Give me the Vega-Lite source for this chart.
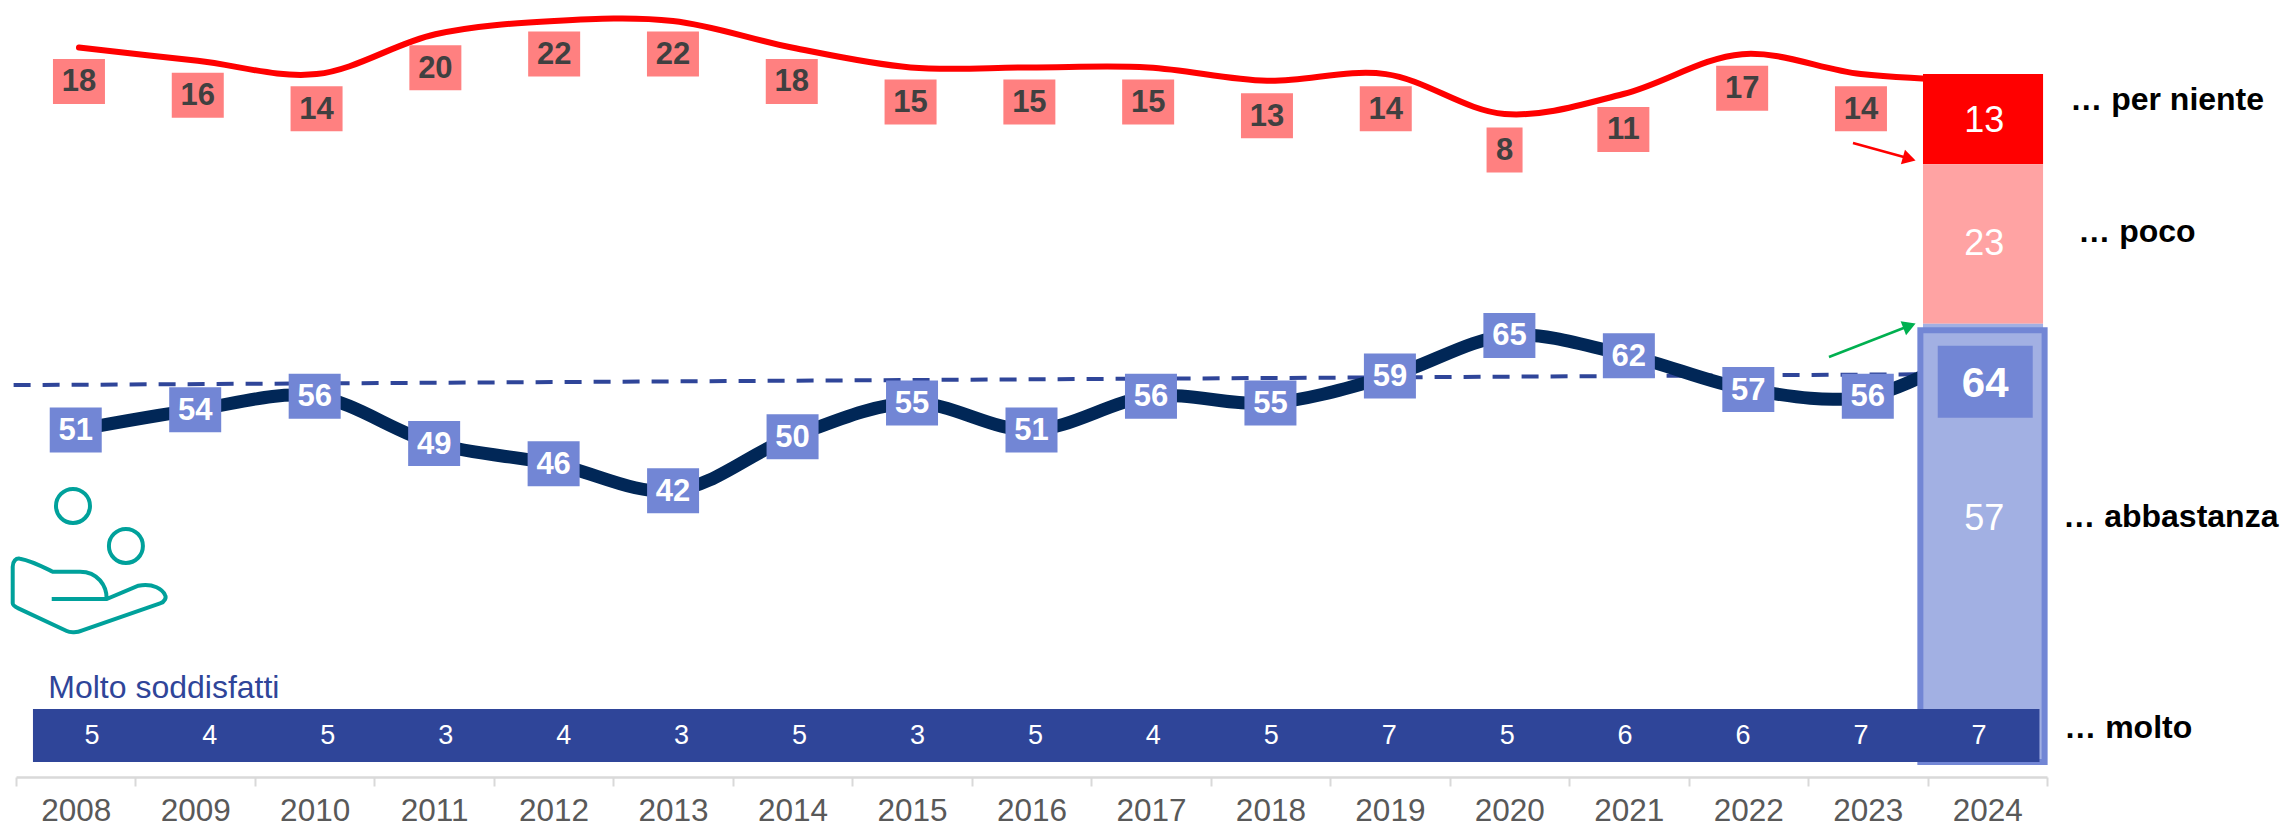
{
"$schema":"https://vega.github.io/schema/vega-lite/v6.json",
"width":2031,"height":777,
"autosize":{"type":"none"},
"padding":{"left":16,"top":0,"right":235,"bottom":54},
"background":"white",
"config":{"view":{"stroke":null},"font":"Liberation Sans","text":{"font":"Liberation Sans"}},
"datasets":{
"serie":[
{"anno":2008,"soddisfatti":51,"perNiente":18,"molto":5},
{"anno":2009,"soddisfatti":54,"perNiente":16,"molto":4},
{"anno":2010,"soddisfatti":56,"perNiente":14,"molto":5},
{"anno":2011,"soddisfatti":49,"perNiente":20,"molto":3},
{"anno":2012,"soddisfatti":46,"perNiente":22,"molto":4},
{"anno":2013,"soddisfatti":42,"perNiente":22,"molto":3},
{"anno":2014,"soddisfatti":50,"perNiente":18,"molto":5},
{"anno":2015,"soddisfatti":55,"perNiente":15,"molto":3},
{"anno":2016,"soddisfatti":51,"perNiente":15,"molto":5},
{"anno":2017,"soddisfatti":56,"perNiente":15,"molto":4},
{"anno":2018,"soddisfatti":55,"perNiente":13,"molto":5},
{"anno":2019,"soddisfatti":59,"perNiente":14,"molto":7},
{"anno":2020,"soddisfatti":65,"perNiente":8,"molto":5},
{"anno":2021,"soddisfatti":62,"perNiente":11,"molto":6},
{"anno":2022,"soddisfatti":57,"perNiente":17,"molto":6},
{"anno":2023,"soddisfatti":56,"perNiente":14,"molto":7},
{"anno":2024,"soddisfatti":64,"perNiente":13,"molto":7}
],
"tendenza":[{"anno":2007.48,"valore":58.0},{"anno":2023.44,"valore":59.6}],
"quota2024":[
{"anno":2024,"risposta":"per niente","pct":13,"da":87,"a":100,"centro":93.5,"etichetta":"… per niente"},
{"anno":2024,"risposta":"poco","pct":23,"da":64,"a":87,"centro":75.5,"etichetta":"… poco"},
{"anno":2024,"risposta":"abbastanza","pct":57,"da":7,"a":64,"centro":35.5,"etichetta":"… abbastanza"},
{"anno":2024,"risposta":"molto","pct":7,"da":0,"a":7,"centro":3.5,"etichetta":"… molto"}
],
"totale2024":[{"anno":2024,"valore":64}],
"titolo":[{"testo":"Molto soddisfatti"}]
},
"resolve":{"scale":{"x":"independent","y":"independent"}},
"layer":[
{"data":{"name":"serie"},
 "mark":{"type":"line","color":"#FF0000","strokeWidth":6,"interpolate":"catmull-rom","strokeCap":"round"},
 "encoding":{
  "x":{"field":"anno","type":"quantitative","scale":{"domain":[2007.47,2024.566]},"axis":null},
  "y":{"field":"perNiente","type":"quantitative","scale":{"domain":[-91.86,25.16]},"axis":null}}},
{"data":{"name":"tendenza"},
 "mark":{"type":"line","color":"#2F4599","strokeWidth":4,"strokeDash":[17,12]},
 "encoding":{
  "x":{"field":"anno","type":"quantitative","scale":{"domain":[2007.5,2024.5]},"axis":null},
  "y":{"field":"valore","type":"quantitative","scale":{"domain":[0,115]},"axis":null}}},
{"data":{"name":"serie"},
 "mark":{"type":"line","color":"#012757","strokeWidth":13,"interpolate":"catmull-rom"},
 "encoding":{
  "x":{"field":"anno","type":"quantitative","scale":{"domain":[2007.5,2024.5]},
   "axis":{"values":[2007.5,2008.5,2009.5,2010.5,2011.5,2012.5,2013.5,2014.5,2015.5,2016.5,2017.5,2018.5,2019.5,2020.5,2021.5,2022.5,2023.5,2024.5],
    "labelExpr":"datum.value<2024 ? format(datum.value+0.5,'d') : ''","labelOffset":59.7,"labelOverlap":false,"labelFlush":false,"labelBound":false,
    "title":null,"grid":false,"domainColor":"#D9D9D9","domainWidth":2.5,"tickColor":"#D9D9D9","tickWidth":2,"tickSize":9,
    "labelFont":"Liberation Sans","labelFontSize":31.5,"labelColor":"#595959","labelPadding":9,"labelAngle":0}},
  "y":{"field":"soddisfatti","type":"quantitative","scale":{"domain":[-0.35,114.65]},"axis":null}}},
{"data":{"name":"quota2024"},
 "transform":[{"filter":"datum.risposta!='molto'"}],
 "mark":{"type":"rect"},
 "encoding":{
  "x":{"datum":2023.462,"type":"quantitative","scale":{"domain":[2007.5,2024.5]},"axis":null},
  "x2":{"datum":2024.467},
  "y":{"field":"da","type":"quantitative","scale":{"domain":[-1.3,110.66]},"axis":null},
  "y2":{"field":"a"},
  "color":{"field":"risposta","type":"nominal","legend":null,"scale":{"domain":["per niente","poco","abbastanza","molto"],"range":["#FF0000","#FFA3A3","#A2B0E3","#2F4599"]}}}},
{"data":{"name":"totale2024"},
 "mark":{"type":"rect","fill":"#A2B0E3","stroke":"#7286D5","strokeWidth":6},
 "encoding":{
  "x":{"datum":2023.44,"type":"quantitative","scale":{"domain":[2007.5,2024.5]},"axis":null},
  "x2":{"datum":2024.48},
  "y":{"datum":-0.15,"type":"quantitative","scale":{"domain":[-2.33,110.77]},"axis":null},
  "y2":{"datum":62.7}}},
{"data":{"name":"totale2024"},
 "mark":{"type":"rect","color":"#2F4599"},
 "encoding":{
  "x":{"datum":2007.642,"type":"quantitative","scale":{"domain":[2007.5,2024.5]},"axis":null},
  "x2":{"datum":2024.437},
  "y":{"datum":-0.15,"type":"quantitative","scale":{"domain":[-2.33,110.77]},"axis":null},
  "y2":{"datum":7.57}}},
{"data":{"name":"serie"},
 "mark":{"type":"text","color":"white","fontSize":27,"baseline":"middle","align":"center","dy":1},
 "encoding":{
  "x":{"field":"anno","type":"quantitative","scale":{"domain":[2007.356,2024.577]},"axis":null},
  "y":{"datum":3.78,"type":"quantitative","scale":{"domain":[-2.33,110.77]},"axis":null},
  "text":{"field":"molto"}}},
{"data":{"name":"titolo"},
 "mark":{"type":"text","color":"#2F4599","fontSize":32,"baseline":"alphabetic","align":"left"},
 "encoding":{
  "x":{"datum":2007.77,"type":"quantitative","scale":{"domain":[2007.5,2024.5]},"axis":null},
  "y":{"datum":9.12,"type":"quantitative","scale":{"domain":[-2.33,110.77]},"axis":null},
  "text":{"field":"testo"}}},
{"data":{"name":"quota2024"},
 "transform":[{"filter":"datum.risposta!='molto'"}],
 "mark":{"type":"text","color":"white","fontSize":36,"baseline":"middle","align":"center","dx":-3,"dy":2},
 "encoding":{
  "x":{"field":"anno","type":"quantitative","scale":{"domain":[2007.5,2024.5]},"axis":null},
  "y":{"field":"centro","type":"quantitative","scale":{"domain":[-2.33,110.77]},"axis":null},
  "text":{"field":"pct"}}},
{"data":{"name":"totale2024"},
 "mark":{"type":"rect","color":"#7286D5","width":95,"height":72},
 "encoding":{
  "x":{"datum":2023.983,"type":"quantitative","scale":{"domain":[2007.5,2024.5]},"axis":null},
  "y":{"datum":55.2,"type":"quantitative","scale":{"domain":[-2.33,110.77]},"axis":null}}},
{"data":{"name":"totale2024"},
 "mark":{"type":"text","color":"white","fontSize":42,"fontWeight":"bold","baseline":"middle","align":"center","dy":2},
 "encoding":{
  "x":{"datum":2023.983,"type":"quantitative","scale":{"domain":[2007.5,2024.5]},"axis":null},
  "y":{"datum":55.2,"type":"quantitative","scale":{"domain":[-2.33,110.77]},"axis":null},
  "text":{"field":"valore"}}},
{"data":{"name":"serie"},
 "transform":[{"filter":"datum.anno<2024"}],
 "mark":{"type":"rect","color":"#7286D5","width":52,"height":45},
 "encoding":{
  "x":{"field":"anno","type":"quantitative","scale":{"domain":[2007.5,2024.5]},"axis":null},
  "y":{"field":"soddisfatti","type":"quantitative","scale":{"domain":[-0.35,114.65]},"axis":null}}},
{"data":{"name":"serie"},
 "transform":[{"filter":"datum.anno<2024"}],
 "mark":{"type":"text","color":"white","fontSize":31,"fontWeight":"bold","baseline":"middle","align":"center","dy":1},
 "encoding":{
  "x":{"field":"anno","type":"quantitative","scale":{"domain":[2007.5,2024.5]},"axis":null},
  "y":{"field":"soddisfatti","type":"quantitative","scale":{"domain":[-0.35,114.65]},"axis":null},
  "text":{"field":"soddisfatti"}}},
{"data":{"name":"serie"},
 "transform":[{"filter":"datum.anno<2024 && datum.perNiente>=10"}],
 "mark":{"type":"rect","color":"#FF8080","width":52,"height":45},
 "encoding":{
  "x":{"field":"anno","type":"quantitative","scale":{"domain":[2007.47,2024.566]},"axis":null},
  "y":{"field":"perNiente","type":"quantitative","scale":{"domain":[-83.4,29.87]},"axis":null}}},
{"data":{"name":"serie"},
 "transform":[{"filter":"datum.perNiente<10"}],
 "mark":{"type":"rect","color":"#FF8080","width":36,"height":45},
 "encoding":{
  "x":{"field":"anno","type":"quantitative","scale":{"domain":[2007.47,2024.566]},"axis":null},
  "y":{"field":"perNiente","type":"quantitative","scale":{"domain":[-83.4,29.87]},"axis":null}}},
{"data":{"name":"serie"},
 "transform":[{"filter":"datum.anno<2024"}],
 "mark":{"type":"text","color":"#404040","fontSize":31,"fontWeight":"bold","baseline":"middle","align":"center","dy":1},
 "encoding":{
  "x":{"field":"anno","type":"quantitative","scale":{"domain":[2007.47,2024.566]},"axis":null},
  "y":{"field":"perNiente","type":"quantitative","scale":{"domain":[-83.4,29.87]},"axis":null},
  "text":{"field":"perNiente"}}},
{"data":{"name":"quota2024"},"transform":[{"filter":"datum.risposta=='per niente'"}],
 "mark":{"type":"text","color":"black","fontSize":32,"fontWeight":"bold","baseline":"middle","align":"left","dx":83,"dy":-19},
 "encoding":{"x":{"field":"anno","type":"quantitative","scale":{"domain":[2007.5,2024.5]},"axis":null},
  "y":{"field":"centro","type":"quantitative","scale":{"domain":[-2.33,110.77]},"axis":null},"text":{"field":"etichetta"}}},
{"data":{"name":"quota2024"},"transform":[{"filter":"datum.risposta=='poco'"}],
 "mark":{"type":"text","color":"black","fontSize":32,"fontWeight":"bold","baseline":"middle","align":"left","dx":91,"dy":-10},
 "encoding":{"x":{"field":"anno","type":"quantitative","scale":{"domain":[2007.5,2024.5]},"axis":null},
  "y":{"field":"centro","type":"quantitative","scale":{"domain":[-2.33,110.77]},"axis":null},"text":{"field":"etichetta"}}},
{"data":{"name":"quota2024"},"transform":[{"filter":"datum.risposta=='abbastanza'"}],
 "mark":{"type":"text","color":"black","fontSize":32,"fontWeight":"bold","baseline":"middle","align":"left","dx":76,"dy":0},
 "encoding":{"x":{"field":"anno","type":"quantitative","scale":{"domain":[2007.5,2024.5]},"axis":null},
  "y":{"field":"centro","type":"quantitative","scale":{"domain":[-2.33,110.77]},"axis":null},"text":{"field":"etichetta"}}},
{"data":{"name":"quota2024"},"transform":[{"filter":"datum.risposta=='molto'"}],
 "mark":{"type":"text","color":"black","fontSize":32,"fontWeight":"bold","baseline":"middle","align":"left","dx":77,"dy":-9},
 "encoding":{"x":{"field":"anno","type":"quantitative","scale":{"domain":[2007.5,2024.5]},"axis":null},
  "y":{"field":"centro","type":"quantitative","scale":{"domain":[-2.33,110.77]},"axis":null},"text":{"field":"etichetta"}}},
{"data":{"name":"totale2024"},
 "mark":{"type":"rule","color":"#FF0000","strokeWidth":2.5},
 "encoding":{
  "x":{"datum":2022.876,"type":"quantitative","scale":{"domain":[2007.5,2024.5]},"axis":null},
  "x2":{"datum":2023.37},
  "y":{"datum":89.96,"type":"quantitative","scale":{"domain":[-2.33,110.77]},"axis":null},
  "y2":{"datum":87.6}}},
{"data":{"name":"totale2024"},
 "mark":{"type":"point","shape":"triangle-up","filled":true,"color":"#FF0000","size":230,"angle":105.7,"opacity":1},
 "encoding":{
  "x":{"datum":2023.347,"type":"quantitative","scale":{"domain":[2007.5,2024.5]},"axis":null},
  "y":{"datum":87.66,"type":"quantitative","scale":{"domain":[-2.33,110.77]},"axis":null}}},
{"data":{"name":"totale2024"},
 "mark":{"type":"rule","color":"#00B050","strokeWidth":2.5},
 "encoding":{
  "x":{"datum":2022.675,"type":"quantitative","scale":{"domain":[2007.5,2024.5]},"axis":null},
  "x2":{"datum":2023.37},
  "y":{"datum":58.8,"type":"quantitative","scale":{"domain":[-2.33,110.77]},"axis":null},
  "y2":{"datum":63.5}}},
{"data":{"name":"totale2024"},
 "mark":{"type":"point","shape":"triangle-up","filled":true,"color":"#00B050","size":230,"angle":69,"opacity":1},
 "encoding":{
  "x":{"datum":2023.349,"type":"quantitative","scale":{"domain":[2007.5,2024.5]},"axis":null},
  "y":{"datum":63.33,"type":"quantitative","scale":{"domain":[-2.33,110.77]},"axis":null}}},
{"data":{"name":"totale2024"},
 "mark":{"type":"point","shape":"circle","filled":false,"stroke":"#00A19B","strokeWidth":4,"size":1156,"opacity":1},
 "encoding":{
  "x":{"datum":2007.977,"type":"quantitative","scale":{"domain":[2007.5,2024.5]},"axis":null},
  "y":{"datum":37.12,"type":"quantitative","scale":{"domain":[-2.33,110.77]},"axis":null}}},
{"data":{"name":"totale2024"},
 "mark":{"type":"point","shape":"circle","filled":false,"stroke":"#00A19B","strokeWidth":4,"size":1156,"opacity":1},
 "encoding":{
  "x":{"datum":2008.42,"type":"quantitative","scale":{"domain":[2007.5,2024.5]},"axis":null},
  "y":{"datum":31.3,"type":"quantitative","scale":{"domain":[-2.33,110.77]},"axis":null}}},
{"data":{"name":"totale2024"},
 "mark":{"type":"point","filled":false,"stroke":"#00A19B","strokeWidth":4,"size":23409,"opacity":1,
  "shape":"M-0.895,-0.475 C-0.95,-0.485 -0.991,-0.44 -0.991,-0.37 L-0.991,0.109 C-0.991,0.14 -0.96,0.155 -0.917,0.174 L-0.285,0.471 C-0.24,0.495 -0.14,0.49 -0.089,0.466 L0.935,0.109 C1.0,0.09 1.02,0.03 1.0,0.0 C0.97,-0.07 0.85,-0.16 0.651,-0.122 L0.237,0.052 L-0.481,0.052 M0.237,0.052 C0.24,-0.12 0.12,-0.305 -0.111,-0.305 L-0.468,-0.305 C-0.6,-0.37 -0.75,-0.45 -0.895,-0.475"},
 "encoding":{
  "x":{"datum":2008.107,"type":"quantitative","scale":{"domain":[2007.5,2024.5]},"axis":null},
  "y":{"datum":24.16,"type":"quantitative","scale":{"domain":[-2.33,110.77]},"axis":null}}}
]
}
